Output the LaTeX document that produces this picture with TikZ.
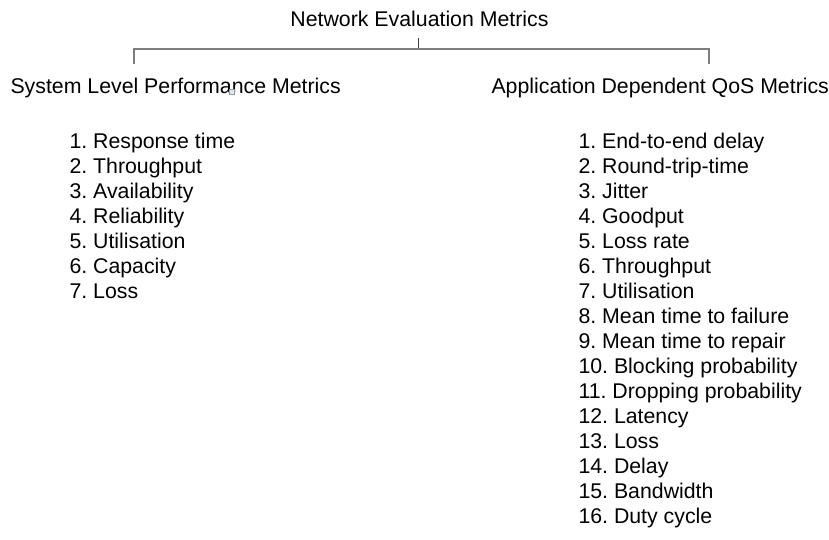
\documentclass[tikz,border=0pt]{standalone}
\usepackage{fontspec}
\setmainfont{Liberation Sans}
\frenchspacing
\definecolor{linegray}{RGB}{125,125,125}
\definecolor{markfill}{RGB}{225,232,245}
\begin{document}
\begin{tikzpicture}[x=1pt,y=-1pt,
  txt/.style={inner sep=0pt,outer sep=0pt,font=\fontsize{21.3}{25}\selectfont\frenchspacing},
  item/.style={txt,anchor=base west},
  link/.style={draw=linegray,line width=1.4pt},
  stem/.style={draw=black!75,line width=0.9pt},
  marker/.style={draw=gray!80,fill=markfill,line width=0.5pt,inner sep=0pt,minimum size=5pt}]
\useasboundingbox (0,0) rectangle (829,539);
% title and headings
\node[txt,anchor=base] (title) at (419.5,26) {Network Evaluation Metrics};
\node[item] (sys) at (10.5,93) {System Level Performance Metrics};
\node[item] (app) at (491.5,93) {Application Dependent QoS Metrics};
\node[marker] (mk) at (231.8,91.7) {};
% connector points
\coordinate (tb) at (418,38);
\coordinate (hj) at (418,49);
\coordinate (hl) at (134,49);
\coordinate (hr) at (709,49);
\coordinate (ld) at (134,64);
\coordinate (rd) at (709,64);
\draw[stem] (tb) -- (hj);
\draw[link] (ld) -- (hl) -- (hr) -- (rd);
% left list
\foreach \t [count=\i] in {Response time,Throughput,Availability,Reliability,Utilisation,Capacity,Loss}{
  \node[item] (l\i) at (69.5,{148.5+25*(\i-1)}) {\i.\ \t};
}
% right list
\foreach \t [count=\i] in {End-to-end delay,Round-trip-time,Jitter,Goodput,Loss rate,Throughput,Utilisation,Mean time to failure,Mean time to repair,Blocking probability,Dropping probability,Latency,Loss,Delay,Bandwidth,Duty cycle}{
  \node[item] (r\i) at (578.5,{148.5+25*(\i-1)}) {\i.\ \t};
}
\end{tikzpicture}
\end{document}
